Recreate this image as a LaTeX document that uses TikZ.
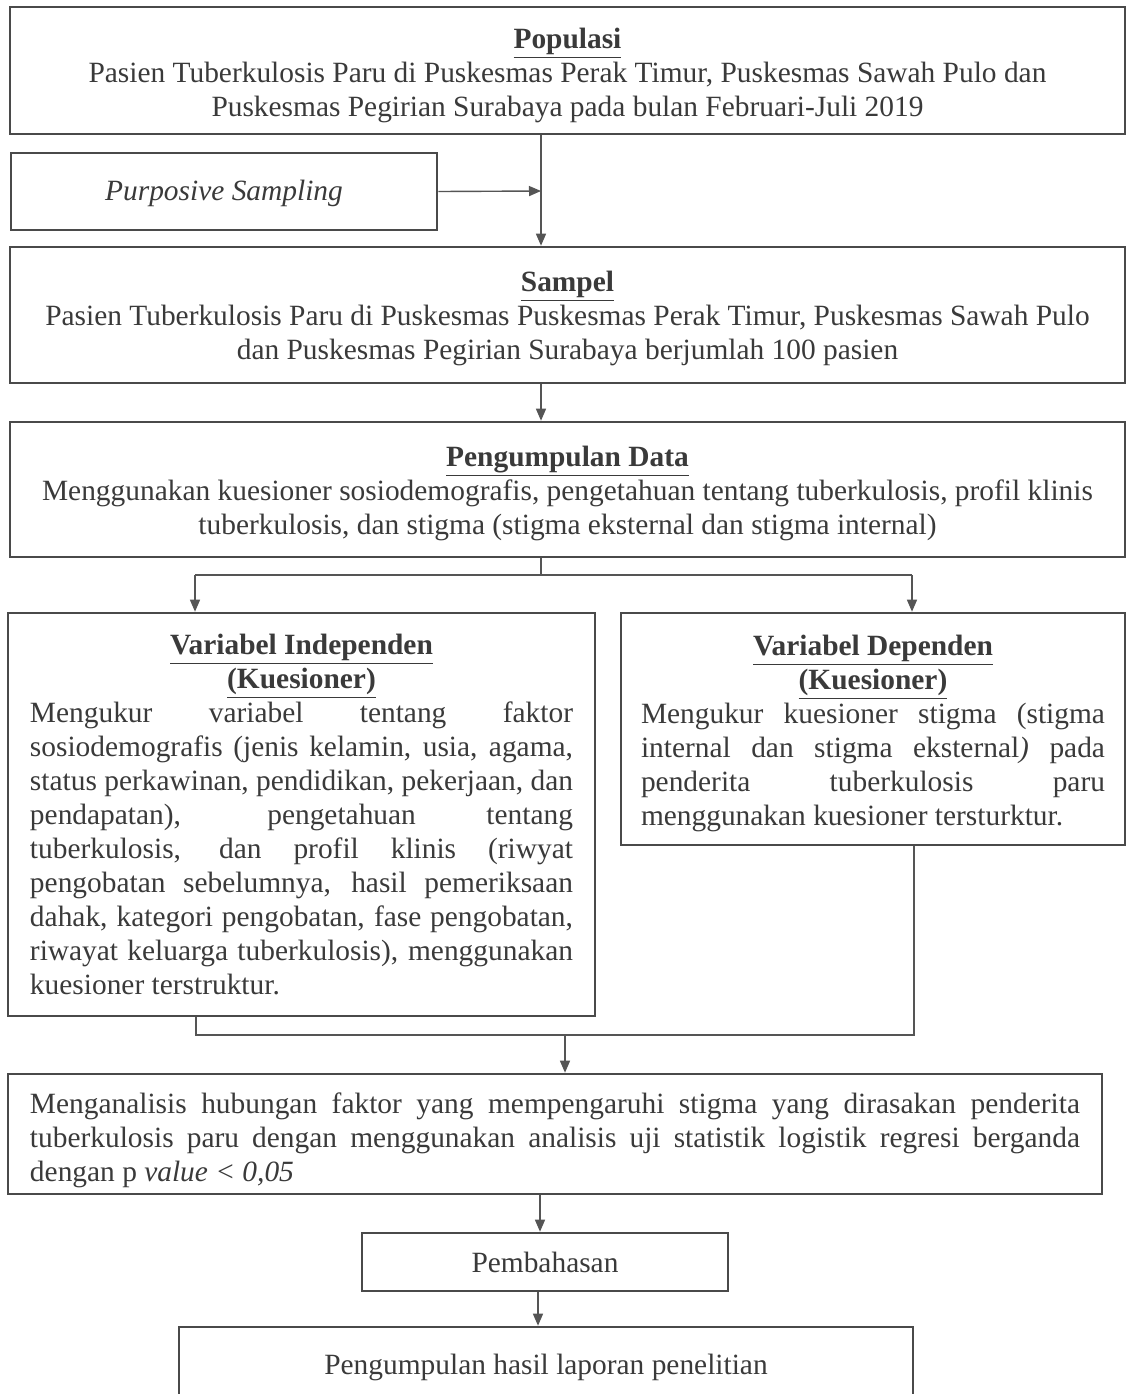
\documentclass[tikz,border=0pt]{standalone}
\usepackage{fontspec}
\setmainfont{Liberation Serif}
\usetikzlibrary{arrows.meta,calc}
\definecolor{bordercol}{HTML}{4A4A4A}
\definecolor{txtcol}{HTML}{3A3A3A}
\definecolor{linecol}{HTML}{555555}
\newcommand{\hdr}[1]{\underline{\textbf{#1}}}
\newcommand{\topgap}[1]{\rule{0pt}{#1}}
\begin{document}
\begin{tikzpicture}[x=0.5pt,y=-0.5pt,
  box/.style={draw=bordercol, line width=1.3pt, inner sep=0pt, text=txtcol,
    font=\fontsize{14.7}{17}\selectfont},
  conn/.style={draw=linecol, line width=0.7pt},
  arr/.style={conn, -{Triangle[length=6pt,width=5pt]}}]
\useasboundingbox (0,0) rectangle (1127,1394);
\clip (0,0) rectangle (1127,1394);
\fill[white] (0,0) rectangle (1127,1394);

\node[box, minimum width=557.5pt, minimum height=63.5pt, align=center] (pop) at (567.5,70.5)
  {\topgap{15pt}\hdr{Populasi}\\ Pasien Tuberkulosis Paru di Puskesmas Perak Timur, Puskesmas Sawah Pulo dan\\ Puskesmas Pegirian Surabaya pada bulan Februari-Juli 2019};

\node[box, minimum width=213pt, minimum height=38.5pt, align=center] (purp) at (224,191.5)
  {\topgap{12pt}\textit{Purposive Sampling}};

\node[box, minimum width=557.5pt, minimum height=68pt, align=center] (sampel) at (567.5,315)
  {\topgap{14pt}\hdr{Sampel}\\ Pasien Tuberkulosis Paru di Puskesmas Puskesmas Perak Timur, Puskesmas Sawah Pulo\\ dan Puskesmas Pegirian Surabaya berjumlah 100 pasien};

\node[box, minimum width=557.5pt, minimum height=67.5pt, align=center] (data) at (567.5,489.5)
  {\topgap{14pt}\hdr{Pengumpulan Data}\\ Menggunakan kuesioner sosiodemografis, pengetahuan tentang tuberkulosis, profil klinis\\ tuberkulosis, dan stigma (stigma eksternal dan stigma internal)};

\node[box, minimum width=293.5pt, minimum height=201.5pt, text width=271.5pt, align=justify] (indep) at (301.5,814.5)
  {\centering\hdr{Variabel Independen}\\ \hdr{(Kuesioner)}\par
   Mengukur variabel tentang faktor\linebreak
   sosiodemografis (jenis kelamin, usia, agama,\linebreak
   status perkawinan, pendidikan, pekerjaan, dan\linebreak
   pendapatan), pengetahuan tentang\linebreak
   tuberkulosis, dan profil klinis (riwyat\linebreak
   pengobatan sebelumnya, hasil pemeriksaan\linebreak
   dahak, kategori pengobatan, fase pengobatan,\linebreak
   riwayat keluarga tuberkulosis), menggunakan\linebreak
   kuesioner terstruktur.};

\node[box, minimum width=252pt, minimum height=116pt, text width=232pt, align=justify] (dep) at (873,729)
  {\centering\topgap{15pt}\hdr{Variabel Dependen}\\ \hdr{(Kuesioner)}\par
   Mengukur kuesioner stigma (stigma\linebreak
   internal dan stigma eksternal\textit{)} pada\linebreak
   penderita tuberkulosis paru\linebreak
   menggunakan kuesioner tersturktur.};

\node[box, minimum width=547pt, minimum height=60pt, text width=525pt, align=justify] (anal) at (555,1134)
  {\topgap{17pt}Menganalisis hubungan faktor yang mempengaruhi stigma yang dirasakan penderita\linebreak
   tuberkulosis paru dengan menggunakan analisis uji statistik logistik regresi berganda\linebreak
   dengan p \textit{value < 0,05}};

\node[box, minimum width=183pt, minimum height=29pt, align=center] (pemb) at (545,1262)
  {Pembahasan};

\node[box, minimum width=367pt, minimum height=38pt, align=center] (final) at (546,1365)
  {\topgap{13pt}Pengumpulan hasil laporan penelitian};

% connectors
\coordinate (j1) at (541,191);
\draw[conn] (pop.south -| j1) -- (j1);
\draw[arr] (j1) -- (sampel.north -| j1);
\draw[arr] (purp.east) -- (j1);
\draw[arr] (sampel.south -| j1) -- (data.north -| j1);

\coordinate (b) at (541,575);
\coordinate (bl) at (195,575);
\coordinate (br) at (912,575);
\draw[conn] (data.south -| b) -- (b);
\draw[conn] (bl) -- (br);
\draw[arr] (bl) -- (indep.north -| bl);
\draw[arr] (br) -- (dep.north -| br);

\coordinate (ml) at (196,1035);
\coordinate (mr) at (914,1035);
\coordinate (mm) at (565,1035);
\draw[conn] (indep.south -| ml) -- (ml) -- (mr) -- (dep.south -| mr);
\draw[arr] (mm) -- (anal.north -| mm);

\coordinate (c1) at (540,1200);
\draw[arr] (anal.south -| c1) -- (pemb.north -| c1);
\coordinate (c2) at (538,1300);
\draw[arr] (pemb.south -| c2) -- (final.north -| c2);
\end{tikzpicture}
\end{document}
